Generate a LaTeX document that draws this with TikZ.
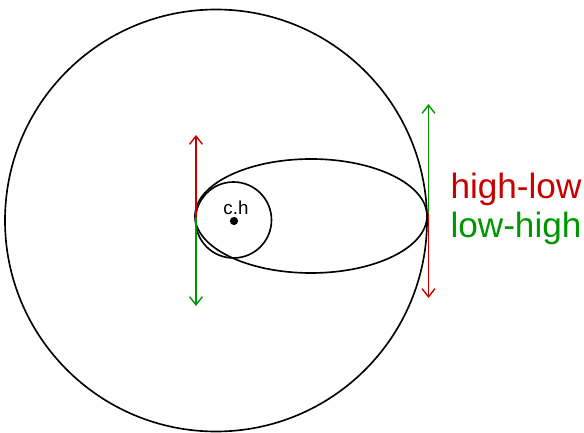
\documentclass[tikz,border=0pt]{standalone}
\usepackage{fontspec}
\setmainfont{Liberation Sans}
\usetikzlibrary{arrows.meta}

\definecolor{hlred}{RGB}{200,0,0}
\definecolor{lhgreen}{RGB}{0,150,0}

\tikzset{
    orbit/.style={black, line width=1.4pt},
    vel/.style={line width=1.5pt, -{Straight Barb[length=7pt,width=11pt,line width=1.2pt]}},
    lbl/.style={font=\fontsize{30}{34}\selectfont, inner sep=0pt}
}

\begin{document}
\begin{tikzpicture}[x=0.03cm, y=-0.03cm]
        \useasboundingbox (0,0) rectangle (584,433);
        % Define dimensions
        \def\bigr{211}
        \def\smallr{38}
        \def\ea{116}
        \def\eb{57}
        % Draw the orbits
        \begin{scope}
            \draw[orbit] (216,220.5) circle (\bigr);
            \draw[orbit] (311,216) ellipse ({\ea} and {\eb});
            \draw[orbit] (233.5,220) circle (\smallr);
        \end{scope}
        % Centre with its label
        \node[circle, fill=black, inner sep=0pt, minimum size=7pt] (ch) at (234,221) {};
        \node[font=\fontsize{16}{18}\selectfont, inner sep=0pt] (chlabel) at (236,208) {c.h};
        % Arrow ends
        \coordinate (peri) at (196,218);
        \coordinate (periup) at (196,135);
        \coordinate (peridown) at (196,306);
        \coordinate (apo) at (428.5,213);
        \coordinate (apoup) at (428.5,104);
        \coordinate (apodown) at (428.5,298);
        % Draw velocity arrows
        \draw[vel, hlred] (peri) -- (periup);
        \draw[vel, lhgreen] (peri) -- (peridown);
        \draw[vel, lhgreen] (apo) -- (apoup);
        \draw[vel, hlred] (apo) -- (apodown);
        % Labels
        \node[lbl, hlred] (highlow) at (516,189) {high-low};
        \node[lbl, lhgreen] (lowhigh) at (516,228) {low-high};
    \end{tikzpicture}
\end{document}
